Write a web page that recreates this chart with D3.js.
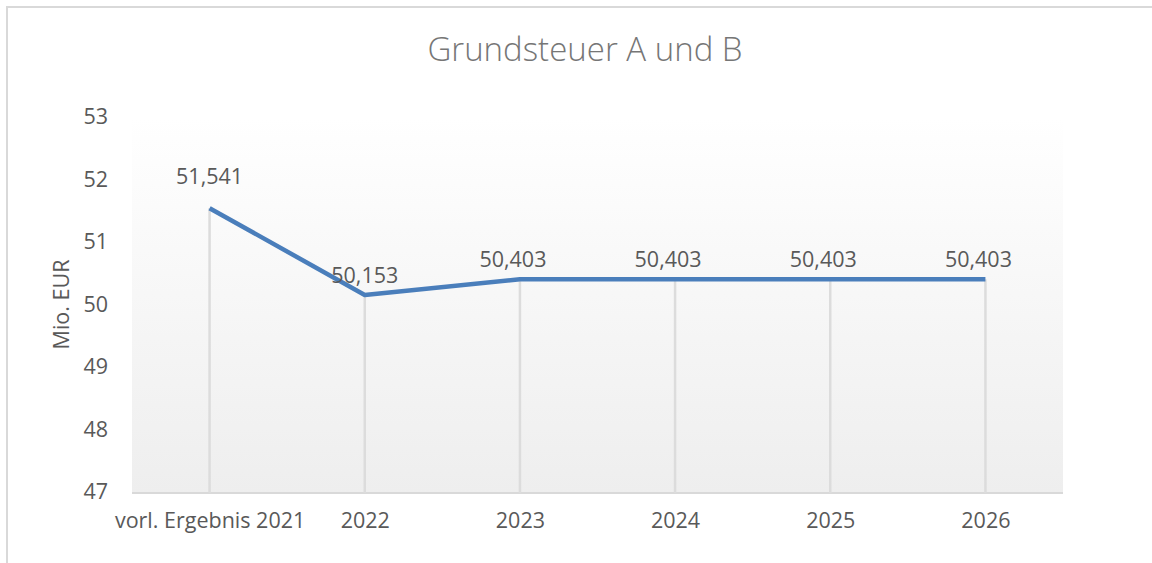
<!DOCTYPE html>
<html>
<head>
<meta charset="utf-8">
<script src="https://cdn.jsdelivr.net/npm/d3@7"></script>
<style>
  body { margin: 0; background: #fff; }
  svg { display: block; font-family: "Open Sans", sans-serif; }
</style>
</head>
<body>
<div id="chart"></div>
<script>
// chart data
const categories = ['vorl. Ergebnis 2021', '2022', '2023', '2024', '2025', '2026'];
const values = [51.541, 50.153, 50.403, 50.403, 50.403, 50.403];
const yTicks = [47, 48, 49, 50, 51, 52, 53];

const W = 1152, H = 563;
const plotLeft = 132, plotRight = 1063, plotTop = 117, plotBottom = 492;
const fontSize = '21.5px';

const svg = d3.select('#chart').append('svg')
  .attr('width', W)
  .attr('height', H);

// outer chart border (runs off the right/bottom edge)
svg.append('rect')
  .attr('x', 7).attr('y', 7)
  .attr('width', W + 10).attr('height', H + 10)
  .attr('fill', '#fff')
  .attr('stroke', '#d9d9d9')
  .attr('stroke-width', 2);

const x = d3.scalePoint()
  .domain(categories)
  .range([plotLeft, plotRight])
  .padding(0.5);

const y = d3.scaleLinear()
  .domain([47, 53])
  .range([plotBottom, plotTop]);

// plot area gradient
const grad = svg.append('defs').append('linearGradient')
  .attr('id', 'bg')
  .attr('x1', 0).attr('y1', 0).attr('x2', 0).attr('y2', 1);
grad.append('stop').attr('offset', '0%').attr('stop-color', '#ffffff');
grad.append('stop').attr('offset', '100%').attr('stop-color', '#eeeeee');

svg.append('rect')
  .attr('x', plotLeft).attr('y', plotTop)
  .attr('width', plotRight - plotLeft).attr('height', plotBottom - plotTop + 1)
  .attr('fill', 'url(#bg)');

// title
svg.append('text')
  .attr('x', 585)
  .attr('y', 61)
  .attr('text-anchor', 'middle')
  .style('font-size', '33px')
  .style('font-weight', 300)
  .style('fill', '#767676')
  .text('Grundsteuer A und B');

// y axis labels
const yAxis = svg.append('g')
  .attr('transform', `translate(${plotLeft},0)`)
  .call(d3.axisLeft(y).tickValues(yTicks).tickSize(0).tickPadding(24).tickFormat(d3.format('d')))
  .attr('font-family', null)
  .attr('font-size', null);
yAxis.select('.domain').remove();
yAxis.selectAll('text')
  .style('font-size', fontSize)
  .style('fill', '#595959');

svg.append('text')
  .attr('transform', `translate(69,${(plotTop + plotBottom) / 2}) rotate(-90)`)
  .attr('text-anchor', 'middle')
  .style('font-size', fontSize)
  .style('fill', '#595959')
  .text('Mio. EUR');

// x axis
const xAxis = svg.append('g')
  .attr('transform', `translate(0,${plotBottom + 1})`)
  .call(d3.axisBottom(x).tickSize(0).tickPadding(20))
  .attr('font-family', null)
  .attr('font-size', null);
xAxis.select('.domain')
  .attr('stroke', '#d9d9d9')
  .attr('stroke-width', 2)
  .attr('d', `M${plotLeft},0H${plotRight}`);
xAxis.selectAll('text')
  .style('font-size', fontSize)
  .style('fill', '#595959');

// drop lines
svg.selectAll('line.drop')
  .data(values)
  .enter().append('line')
  .attr('class', 'drop')
  .attr('x1', (d, i) => x(categories[i]))
  .attr('x2', (d, i) => x(categories[i]))
  .attr('y1', d => y(d))
  .attr('y2', plotBottom + 1)
  .attr('stroke', '#dcdcdc')
  .attr('stroke-width', 2.5);

// the line
const line = d3.line()
  .x((d, i) => x(categories[i]))
  .y(d => y(d));

svg.append('path')
  .datum(values)
  .attr('d', line)
  .attr('fill', 'none')
  .attr('stroke', '#4a7ebb')
  .attr('stroke-width', 4.5)
  .attr('stroke-linejoin', 'round');

// data labels
svg.selectAll('text.labels')
  .data(values)
  .enter().append('text')
  .attr('class', 'labels')
  .attr('x', (d, i) => x(categories[i]) - (i > 1 ? 7 : 0))
  .attr('y', (d, i) => y(d) - (i === 0 ? 24 : 12))
  .attr('text-anchor', 'middle')
  .style('font-size', fontSize)
  .style('fill', '#595959')
  .text(d => d3.format(',.3f')(d).replace('.', ','));
</script>
</body>
</html>
